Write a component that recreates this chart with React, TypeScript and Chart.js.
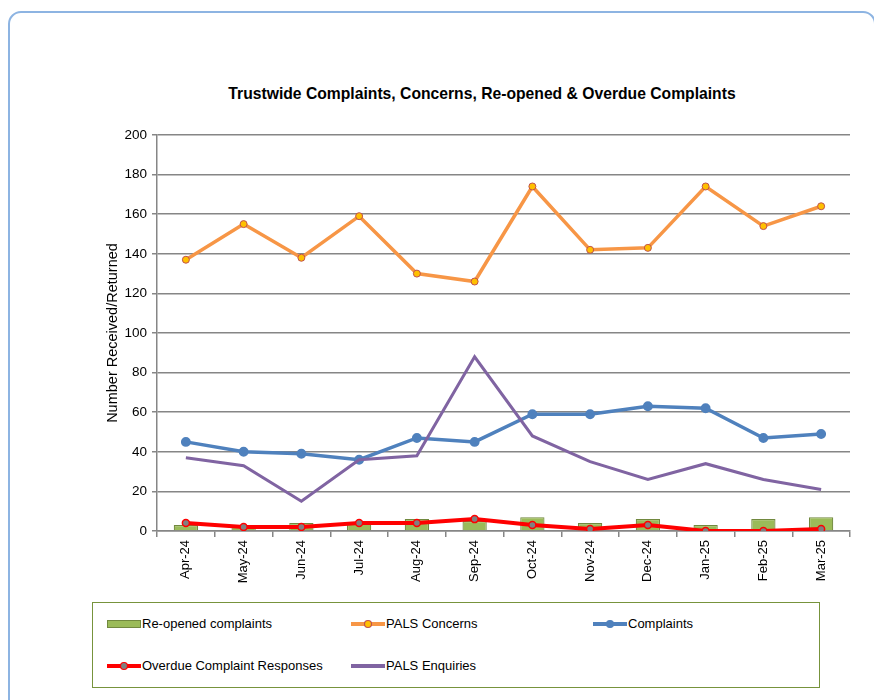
import React, { useEffect, useRef } from "react";
import { Chart, registerables } from "chart.js";

Chart.register(...registerables);

// Monthly categories
const months = [
  "Apr-24", "May-24", "Jun-24", "Jul-24", "Aug-24", "Sep-24",
  "Oct-24", "Nov-24", "Dec-24", "Jan-25", "Feb-25", "Mar-25",
];

// Series values
const reopenedComplaints = [3, 3, 4, 4, 6, 5, 7, 4, 6, 3, 6, 7];
const palsConcerns = [137, 155, 138, 159, 130, 126, 174, 142, 143, 174, 154, 164];
const complaints = [45, 40, 39, 36, 47, 45, 59, 59, 63, 62, 47, 49];
const overdueResponses = [4, 2, 2, 4, 4, 6, 3, 1, 3, 0, 0, 1];
const palsEnquiries = [37, 33, 15, 36, 38, 88, 48, 35, 26, 34, 26, 21];

// Value axis
const yMin = 0;
const yMax = 200;
const yStep = 20;

const FONT = '"Liberation Sans", Arial, sans-serif';
const GRID = "#868686";

function LegendMarker({ kind, color, dot, dotBorder }: { kind: "bar" | "line"; color: string; dot?: string; dotBorder?: string }) {
  return (
    <svg width={34} height={12} style={{ display: "block" }}>
      {kind === "bar" ? (
        <rect x={0.5} y={2.5} width={33} height={7} fill="#9BBB59" stroke="#71893F" strokeWidth={1} />
      ) : (
        <>
          <line x1={0} y1={6} x2={34} y2={6} stroke={color} strokeWidth={4} strokeLinecap="round" />
          {dot && <circle cx={17} cy={6} r={3.5} fill={dot} stroke={dotBorder} strokeWidth={1.2} />}
        </>
      )}
    </svg>
  );
}

function LegendItem({ x, y, label, children }: { x: number; y: number; label: string; children: React.ReactNode }) {
  return (
    <div style={{ position: "absolute", left: x, top: y, display: "flex", alignItems: "center", whiteSpace: "nowrap" }}>
      {children}
      <span style={{ font: `13px ${FONT}`, color: "#000", marginLeft: 1 }}>{label}</span>
    </div>
  );
}

export default function App() {
  const canvasRef = useRef<HTMLCanvasElement | null>(null);

  useEffect(() => {
    if (!canvasRef.current) return;
    const chart = new Chart(canvasRef.current, {
      type: "bar",
      data: {
        labels: months,
        datasets: [
          {
            type: "line",
            label: "PALS Enquiries",
            data: palsEnquiries,
            borderColor: "#8064A2",
            borderWidth: 3,
            pointRadius: 0,
            tension: 0,
            order: 1,
          },
          {
            type: "line",
            label: "Overdue Complaint Responses",
            data: overdueResponses,
            borderColor: "#FF0000",
            borderWidth: 4,
            pointRadius: 3.5,
            pointBackgroundColor: "#808080",
            pointBorderColor: "#FF0000",
            pointBorderWidth: 1.5,
            tension: 0,
            order: 2,
          },
          {
            type: "line",
            label: "Complaints",
            data: complaints,
            borderColor: "#4F81BD",
            borderWidth: 3.5,
            pointRadius: 3.2,
            pointBackgroundColor: "#4F81BD",
            pointBorderColor: "#4F81BD",
            tension: 0,
            order: 3,
          },
          {
            type: "line",
            label: "PALS Concerns",
            data: palsConcerns,
            borderColor: "#F79646",
            borderWidth: 3.5,
            pointRadius: 3.5,
            pointBackgroundColor: "#FFC000",
            pointBorderColor: "#C0504D",
            pointBorderWidth: 1,
            tension: 0,
            order: 4,
          },
          {
            type: "bar",
            label: "Re-opened complaints",
            data: reopenedComplaints,
            backgroundColor: "#9BBB59",
            borderColor: "#71893F",
            borderWidth: 1.2,
            barPercentage: 0.42,
            categoryPercentage: 1,
            order: 10,
          },
        ],
      },
      options: {
        animation: false,
        responsive: false,
        maintainAspectRatio: false,
        layout: { padding: { left: 104, top: 135, right: 24, bottom: 0 } },
        plugins: {
          legend: { display: false },
          title: { display: false },
          tooltip: { enabled: false },
        },
        scales: {
          x: {
            offset: true,
            grid: { drawOnChartArea: false, offset: true, tickLength: 6, color: GRID, lineWidth: 1.5 },
            border: { color: GRID, width: 1.5 },
            ticks: { minRotation: 90, maxRotation: 90, padding: 3, color: "#000", font: { family: FONT, size: 13 } },
            afterFit: (scale: any) => { scale.height = 69; },
          },
          y: {
            min: yMin,
            max: yMax,
            grid: { color: GRID, lineWidth: 1.5, tickLength: 5 },
            border: { color: GRID, width: 1.5 },
            ticks: { stepSize: yStep, padding: 5, color: "#000", font: { family: FONT, size: 13.5 } },
            title: { display: true, text: "Number Received/Returned", color: "#000", padding: 0, font: { family: FONT, size: 14.5 } },
            afterFit: (scale: any) => { scale.width = 53; },
          },
        },
      },
    });
    return () => chart.destroy();
  }, []);

  return (
    <div style={{ position: "absolute", left: 0, top: 0, width: 874, height: 700, overflow: "hidden", background: "#fff" }}>
      <div
        style={{
          position: "absolute", left: 8, top: 11, width: 868, height: 720,
          border: "2.5px solid #8DB4E2", borderRadius: 13, boxSizing: "border-box",
        }}
      />
      <div
        style={{
          position: "absolute", left: 82, top: 85, width: 800, textAlign: "center",
          font: `bold 15.7px ${FONT}`, color: "#000", whiteSpace: "nowrap",
        }}
      >
        Trustwide Complaints, Concerns, Re-opened &amp; Overdue Complaints
      </div>
      <canvas ref={canvasRef} width={874} height={600} style={{ position: "absolute", left: 0, top: 0, width: 874, height: 600 }} />
      <div
        style={{
          position: "absolute", left: 92, top: 602, width: 728, height: 86,
          border: "1.5px solid #77933C", boxSizing: "border-box",
        }}
      />
      <LegendItem x={107} y={616} label="Re-opened complaints">
        <LegendMarker kind="bar" color="#9BBB59" />
      </LegendItem>
      <LegendItem x={351} y={616} label="PALS Concerns">
        <LegendMarker kind="line" color="#F79646" dot="#FFC000" dotBorder="#C0504D" />
      </LegendItem>
      <LegendItem x={593} y={616} label="Complaints">
        <LegendMarker kind="line" color="#4F81BD" dot="#4F81BD" dotBorder="#4F81BD" />
      </LegendItem>
      <LegendItem x={107} y={658} label="Overdue Complaint Responses">
        <LegendMarker kind="line" color="#FF0000" dot="#808080" dotBorder="#FF0000" />
      </LegendItem>
      <LegendItem x={351} y={658} label="PALS Enquiries">
        <LegendMarker kind="line" color="#8064A2" />
      </LegendItem>
    </div>
  );
}
